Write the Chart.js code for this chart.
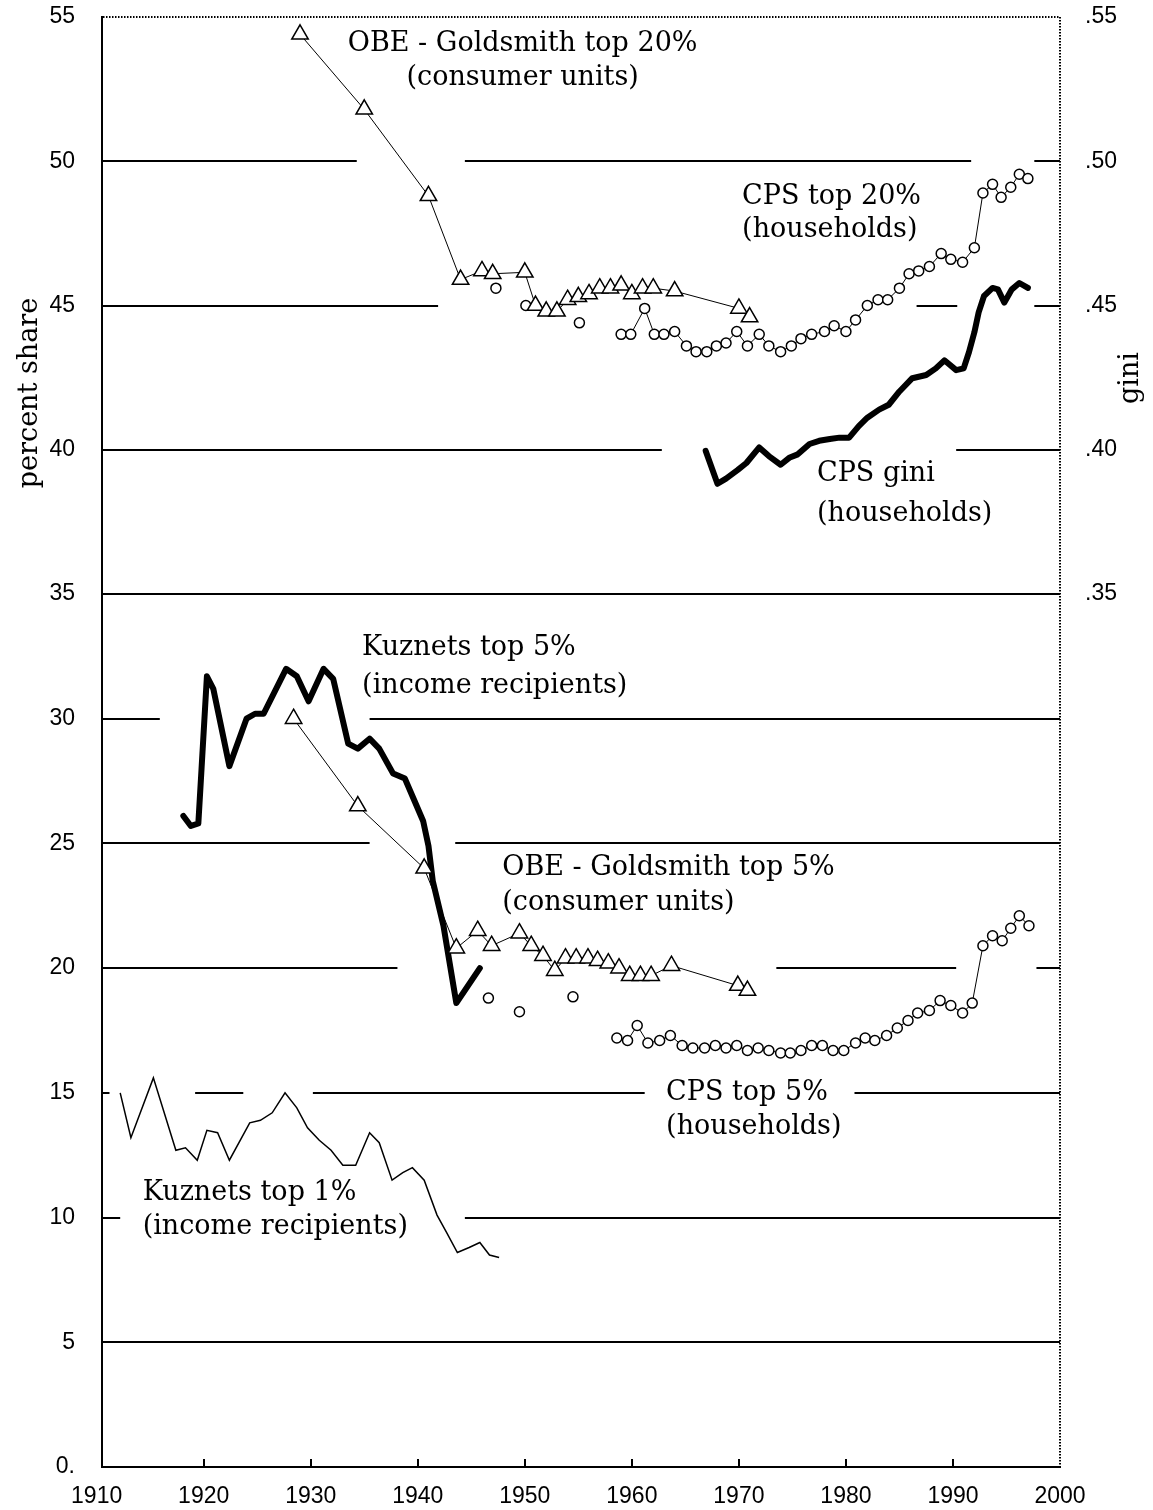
<!DOCTYPE html>
<html>
<head>
<meta charset="utf-8">
<script src="https://cdn.jsdelivr.net/npm/chart.js@4/dist/chart.umd.min.js"></script>
<style>
  html, body { margin: 0; padding: 0; background: #fff; }
</style>
</head>
<body>
<canvas id="chart" width="1153" height="1510"></canvas>
<script>
// ---- data ----
const tickYears = [1910, 1920, 1930, 1940, 1950, 1960, 1970, 1980, 1990, 2000];

// OBE - Goldsmith top 20% (consumer units)
const obe20Years = [1929, 1935, 1941, 1944, 1946, 1947, 1950, 1951, 1952, 1953, 1954, 1955, 1956, 1957, 1958, 1959, 1960, 1961, 1962, 1964, 1970, 1971];
const obe20 = [54.4, 51.8, 48.8, 45.9, 46.2, 46.1, 46.15, 45.0, 44.8, 44.8, 45.2, 45.3, 45.4, 45.6, 45.6, 45.7, 45.4, 45.6, 45.6, 45.5, 44.9, 44.6];

// CPS top 20% (households)
const cps20Years = [1947.3, 1948.5, 1950.1, 1951, 1955.1, 1957, 1959.0, 1959.9, 1961.2, 1962.1, 1963.0, 1964.0, 1965.1, 1966.0, 1967.0, 1967.9, 1968.8, 1969.8, 1970.8, 1971.9, 1972.8, 1973.9, 1974.9, 1975.8, 1976.8, 1978.0, 1978.9, 1980.0, 1980.9, 1982.0, 1983.0, 1983.9, 1985.0, 1985.9, 1986.8, 1987.8, 1988.9, 1989.8, 1990.9, 1992.0, 1992.8, 1993.7, 1994.5, 1995.4, 1996.2, 1997.0];
const cps20 = [45.6, null, 45.0, null, 44.4, null, 44.0, 44.0, 44.9, 44.0, 44.0, 44.1, 43.6, 43.4, 43.4, 43.6, 43.7, 44.1, 43.6, 44.0, 43.6, 43.4, 43.6, 43.85, 44.0, 44.1, 44.3, 44.1, 44.5, 45.0, 45.2, 45.2, 45.6, 46.1, 46.2, 46.35, 46.8, 46.6, 46.5, 47.0, 48.9, 49.2, 48.75, 49.1, 49.55, 49.4];

// CPS gini (households), right axis
const giniYears = [1966.9, 1968.0, 1968.8, 1969.9, 1970.7, 1971.9, 1972.8, 1973.9, 1974.7, 1975.5, 1976.6, 1977.5, 1978.5, 1979.4, 1980.3, 1981.2, 1982.0, 1983.1, 1984.0, 1985.0, 1986.2, 1987.5, 1988.4, 1989.2, 1990.3, 1991.0, 1991.5, 1992.0, 1992.4, 1992.9, 1993.7, 1994.2, 1994.8, 1995.5, 1996.2, 1997.0];
const gini = [0.3996, 0.3882, 0.390, 0.393, 0.3954, 0.4008, 0.3978, 0.3948, 0.3972, 0.3984, 0.402, 0.4031, 0.4037, 0.4042, 0.4042, 0.4082, 0.4111, 0.4139, 0.4156, 0.4202, 0.4248, 0.4259, 0.4282, 0.431, 0.4276, 0.4282, 0.4339, 0.4407, 0.4476, 0.4533, 0.4561, 0.4556, 0.451, 0.4556, 0.4578, 0.4561];

// Kuznets top 5% (income recipients)
const kuz5Years = [1918.1, 1918.8, 1919.5, 1919.8, 1920.3, 1920.9, 1922.4, 1924.0, 1924.8, 1925.6, 1927.7, 1928.7, 1929.8, 1931.2, 1932.1, 1933.5, 1934.4, 1935.5, 1936.4, 1937.7, 1938.8, 1939.7, 1940.5, 1941.0, 1941.4, 1942.4, 1943.6, 1945.8];
const kuz5 = [26.1, 25.7, 25.8, 28.0, 31.7, 31.2, 28.1, 30.0, 30.2, 30.2, 32.0, 31.7, 30.7, 32.0, 31.6, 29.0, 28.8, 29.2, 28.8, 27.8, 27.6, 26.7, 25.9, 24.9, 23.5, 21.7, 18.6, 20.0];

// OBE - Goldsmith top 5% (consumer units)
const obe5Years = [1928.4, 1934.4, 1940.6, 1943.6, 1945.6, 1946.9, 1949.5, 1950.6, 1951.7, 1952.8, 1953.8, 1954.8, 1955.9, 1956.8, 1957.8, 1958.8, 1959.8, 1960.8, 1961.8, 1963.7, 1969.9, 1970.8];
const obe5 = [30.0, 26.5, 24.0, 20.8, 21.5, 20.9, 21.4, 20.9, 20.5, 19.9, 20.4, 20.4, 20.4, 20.3, 20.2, 20.0, 19.7, 19.7, 19.7, 20.1, 19.3, 19.1];

// CPS top 5% (households)
const cps5Years = [1946.6, 1948, 1949.5, 1951, 1954.5, 1956, 1958.6, 1959.6, 1960.5, 1961.5, 1962.6, 1963.6, 1964.7, 1965.7, 1966.8, 1967.8, 1968.8, 1969.8, 1970.8, 1971.8, 1972.8, 1973.9, 1974.8, 1975.8, 1976.8, 1977.8, 1978.8, 1979.8, 1980.9, 1981.8, 1982.7, 1983.8, 1984.8, 1985.8, 1986.7, 1987.8, 1988.8, 1989.8, 1990.9, 1991.8, 1992.8, 1993.7, 1994.6, 1995.4, 1996.2, 1997.1];
const cps5 = [18.8, null, 18.25, null, 18.85, null, 17.2, 17.1, 17.7, 17.0, 17.1, 17.3, 16.9, 16.8, 16.8, 16.9, 16.8, 16.9, 16.7, 16.8, 16.7, 16.6, 16.6, 16.7, 16.9, 16.9, 16.7, 16.7, 17.0, 17.2, 17.1, 17.3, 17.6, 17.9, 18.2, 18.3, 18.7, 18.5, 18.2, 18.6, 20.9, 21.3, 21.1, 21.6, 22.1, 21.7];

// Kuznets top 1% (income recipients)
const kuz1Years = [1912.2, 1913.2, 1915.3, 1917.4, 1918.3, 1919.4, 1920.3, 1921.3, 1922.4, 1924.3, 1925.3, 1926.4, 1927.6, 1928.7, 1929.7, 1930.8, 1931.9, 1933.0, 1934.2, 1935.5, 1936.4, 1937.6, 1938.6, 1939.5, 1940.6, 1941.8, 1942.7, 1943.7, 1944.8, 1945.8, 1946.7, 1947.6];
const kuz1 = [15.0, 13.2, 15.6, 12.7, 12.8, 12.3, 13.5, 13.4, 12.3, 13.8, 13.9, 14.2, 15.0, 14.4, 13.6, 13.1, 12.7, 12.1, 12.1, 13.4, 13.0, 11.5, 11.8, 12.0, 11.5, 10.1, 9.4, 8.6, 8.8, 9.0, 8.5, 8.4];

// series labels: [axis, year, value, align, text]
const seriesLabels = [
    ['yUp', 1949.8, 54.05, 'center', 'OBE - Goldsmith top 20%'],
    ['yUp', 1949.8, 52.9, 'center', '(consumer units)'],
    ['yUp', 1970.3, 48.75, 'left', 'CPS top 20%'],
    ['yUp', 1970.3, 47.62, 'left', '(households)'],
    ['yUp', 1977.3, 39.15, 'left', 'CPS gini'],
    ['yUp', 1977.3, 37.77, 'left', '(households)'],
    ['yLow', 1934.8, 32.84, 'left', 'Kuznets top 5%'],
    ['yLow', 1934.8, 31.31, 'left', '(income recipients)'],
    ['yLow', 1947.9, 24.02, 'left', 'OBE - Goldsmith top 5%'],
    ['yLow', 1947.9, 22.62, 'left', '(consumer units)'],
    ['yLow', 1963.2, 15.0, 'left', 'CPS top 5%'],
    ['yLow', 1963.2, 13.64, 'left', '(households)'],
    ['yLow', 1914.3, 10.99, 'left', 'Kuznets top 1%'],
    ['yLow', 1914.3, 9.63, 'left', '(income recipients)']
];

// places where the horizontal rules are broken: [axis, value, fromYear, toYear]
const ruleGaps = [
    ['yUp', 50, 1934.3, 1944.4], ['yUp', 50, 1991.7, 1997.6],
    ['yUp', 45, 1941.9, 1986.6], ['yUp', 45, 1990.4, 1997.6],
    ['yUp', 40, 1962.8, 1990.3],
    ['yLow', 30, 1915.9, 1935.5],
    ['yLow', 25, 1935.5, 1943.5],
    ['yLow', 20, 1938.1, 1973.5], ['yLow', 20, 1990.3, 1997.8],
    ['yLow', 15, 1911.2, 1919.2], ['yLow', 15, 1923.7, 1930.2], ['yLow', 15, 1961.2, 1980.8],
    ['yLow', 10, 1912.2, 1944.4]
];

function pts(xs, ys) {
    return xs.map((x, i) => ({x: x, y: ys[i]}));
}

const tickFont = {family: "'Liberation Sans', Arial, sans-serif", size: 23};
const textFont = "27px 'DejaVu Serif', 'Liberation Serif', serif";

const triangle = {
    pointStyle: 'triangle', pointRadius: 9.5, pointBorderWidth: 1.5,
    pointBackgroundColor: '#fff', pointBorderColor: '#000',
    borderColor: '#000', borderWidth: 1
};
const circle = {
    pointStyle: 'circle', pointRadius: 5, pointBorderWidth: 1.5,
    pointBackgroundColor: '#fff', pointBorderColor: '#000',
    borderColor: '#000', borderWidth: 1, spanGaps: false
};
const thick = {
    pointRadius: 0, borderColor: '#000', borderWidth: 6,
    borderJoinStyle: 'round', borderCapStyle: 'round'
};

function noPad(s) {
    s.paddingTop = 0;
    s.paddingBottom = 0;
    s.paddingLeft = 0;
    s.paddingRight = 0;
}

const ruleGapPlugin = {
    id: 'ruleGaps',
    beforeDatasetsDraw(chart) {
        const c = chart.ctx;
        const xs = chart.scales.x;
        c.save();
        c.fillStyle = '#fff';
        for (const g of ruleGaps) {
            const ys = chart.scales[g[0]];
            const y = ys.getPixelForValue(g[1]);
            const x1 = xs.getPixelForValue(g[2]);
            const x2 = xs.getPixelForValue(g[3]);
            c.fillRect(x1, y - 3, x2 - x1, 6);
        }
        c.restore();
    }
};

const framePlugin = {
    id: 'frame',
    afterDatasetsDraw(chart) {
        const c = chart.ctx;
        const a = chart.chartArea;
        c.save();
        c.strokeStyle = '#000';
        c.lineWidth = 2;
        c.setLineDash([1.5, 1.5]);
        c.beginPath();
        c.moveTo(a.left + 1, a.top);
        c.lineTo(a.right, a.top);
        c.lineTo(a.right, a.bottom);
        c.stroke();
        c.setLineDash([]);
        // axis titles
        c.fillStyle = '#000';
        c.font = textFont;
        c.textAlign = 'center';
        c.textBaseline = 'middle';
        c.translate(30, 393);
        c.rotate(-Math.PI / 2);
        c.fillText('percent share', 0, 0);
        c.restore();
        c.save();
        c.fillStyle = '#000';
        c.font = textFont;
        c.textAlign = 'center';
        c.textBaseline = 'middle';
        c.translate(1131, 378);
        c.rotate(-Math.PI / 2);
        c.fillText('gini', 0, 0);
        c.restore();
    }
};

const labelPlugin = {
    id: 'seriesLabels',
    afterDatasetsDraw(chart) {
        const c = chart.ctx;
        const xs = chart.scales.x;
        c.save();
        c.fillStyle = '#000';
        c.font = textFont;
        c.textBaseline = 'middle';
        for (const l of seriesLabels) {
            c.textAlign = l[3];
            c.fillText(l[4], xs.getPixelForValue(l[1]), chart.scales[l[0]].getPixelForValue(l[2]));
        }
        c.restore();
    }
};

const ctx = document.getElementById('chart').getContext('2d');
const chart = new Chart(ctx, {
    type: 'line',
    data: {
        datasets: [
            Object.assign({label: 'OBE - Goldsmith top 20%', yAxisID: 'yUp', data: pts(obe20Years, obe20)}, triangle),
            Object.assign({label: 'OBE - Goldsmith top 5%', yAxisID: 'yLow', data: pts(obe5Years, obe5)}, triangle),
            Object.assign({label: 'CPS top 20%', yAxisID: 'yUp', data: pts(cps20Years, cps20)}, circle),
            Object.assign({label: 'CPS top 5%', yAxisID: 'yLow', data: pts(cps5Years, cps5)}, circle),
            Object.assign({label: 'CPS gini', yAxisID: 'gUp', data: pts(giniYears, gini)}, thick),
            Object.assign({label: 'Kuznets top 5%', yAxisID: 'yLow', data: pts(kuz5Years, kuz5)}, thick),
            {label: 'Kuznets top 1%', yAxisID: 'yLow', data: pts(kuz1Years, kuz1),
             pointRadius: 0, borderColor: '#000', borderWidth: 1.5}
        ]
    },
    options: {
        responsive: false,
        animation: false,
        layout: {padding: {top: 17, left: 0, right: 0, bottom: 0}},
        plugins: {legend: {display: false}, tooltip: {enabled: false}},
        scales: {
            x: {
                type: 'linear', min: 1910.5, max: 2000,
                afterBuildTicks: (s) => { s.ticks = tickYears.map(v => ({value: v})); },
                afterFit: (s) => { s.height = 43; noPad(s); },
                grid: {
                    drawOnChartArea: false, drawTicks: true, tickLength: -8, lineWidth: 2,
                    color: (c) => (c.tick && (c.tick.value === 1910 || c.tick.value === 2000)) ? 'rgba(0,0,0,0)' : '#000'
                },
                border: {display: true, color: '#000', width: 2},
                ticks: {font: tickFont, color: '#000', padding: 24, maxRotation: 0, autoSkip: false,
                        callback: (v) => String(v)}
            },
            // left stack: Chart.js places the later left box on top
            yLow: {
                type: 'linear', position: 'left', stack: 'left', stackWeight: 873,
                min: 0, max: 35,
                afterFit: (s) => { s.width = 102; noPad(s); },
                grid: {color: '#000', lineWidth: 2, drawTicks: false},
                border: {display: true, color: '#000', width: 2},
                ticks: {stepSize: 5, font: tickFont, color: '#000', padding: 27,
                        callback: (v) => v === 0 ? '0.' : String(v)}
            },
            yUp: {
                type: 'linear', position: 'left', stack: 'left', stackWeight: 577,
                min: 35, max: 55,
                afterFit: (s) => { s.width = 102; noPad(s); },
                grid: {color: (c) => (c.tick && c.tick.value === 55) ? 'rgba(0,0,0,0)' : '#000', lineWidth: 2, drawTicks: false},
                border: {display: true, color: '#000', width: 2},
                ticks: {stepSize: 5, font: tickFont, color: '#000', padding: 27,
                        callback: (v) => v === 35 ? '' : String(v)}
            },
            gUp: {
                type: 'linear', position: 'right', stack: 'right', stackWeight: 577,
                min: 0.35, max: 0.55,
                afterFit: (s) => { s.width = 93; noPad(s); },
                grid: {display: false},
                border: {display: false},
                ticks: {stepSize: 0.05, font: tickFont, color: '#000', padding: 17,
                        callback: (v) => '.' + Math.round(v * 100)}
            },
            gLow: {
                type: 'linear', position: 'right', stack: 'right', stackWeight: 873,
                min: 0, max: 0.35,
                afterFit: (s) => { s.width = 93; noPad(s); },
                grid: {display: false},
                border: {display: false},
                ticks: {display: false}
            }
        }
    },
    plugins: [ruleGapPlugin, framePlugin, labelPlugin]
});
</script>
</body>
</html>
